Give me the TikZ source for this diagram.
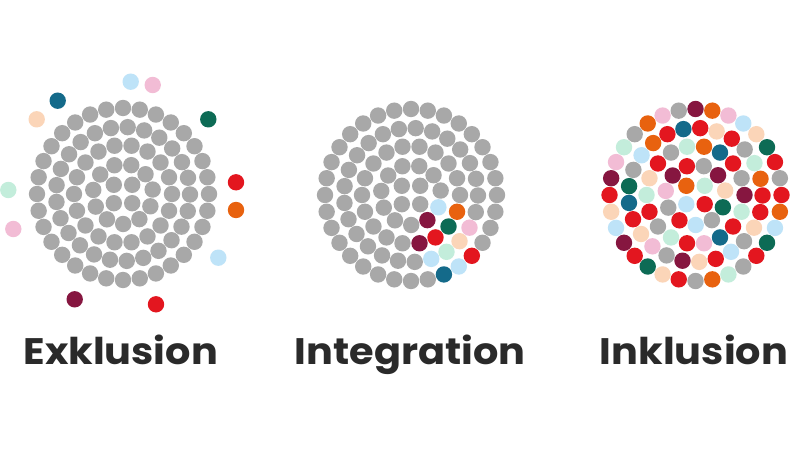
\documentclass[tikz,border=0pt]{standalone}
\usepackage{fontspec}
\usepackage{tikz}
\usetikzlibrary{calc}
\newfontfamily\titlefont[FakeStretch=1.08]{Poppins}

\definecolor{cgray}{HTML}{A8A8A8}
\definecolor{cblue}{HTML}{BEE3F8}
\definecolor{cpink}{HTML}{F2BCD5}
\definecolor{cpetrol}{HTML}{146A8A}
\definecolor{cpeach}{HTML}{FBD5B8}
\definecolor{cgreen}{HTML}{0D6B55}
\definecolor{cred}{HTML}{E3161F}
\definecolor{corange}{HTML}{E8620F}
\definecolor{cmint}{HTML}{C3EDDB}
\definecolor{cwine}{HTML}{861640}
\definecolor{ctext}{HTML}{2A2A2A}

\tikzset{
    title/.style={font=\titlefont\bfseries\fontsize{21}{25}\selectfont, text=ctext, anchor=base, inner sep=0pt}
}
\newcommand{\dotr}{8.2}
% ring of dots: centre, radius, count, first angle, colours (clockwise)
\newcommand{\dotring}[5]{%
    \foreach \c [count=\j] in {#5}
        \fill[\c] ($(#1)+({#4-(\j-1)*360/#3}:#2)$) circle (\dotr);
}
\newcommand{\grayring}[4]{%
    \foreach \j in {1,...,#3}
        \fill[cgray] ($(#1)+({#4-(\j-1)*360/#3}:#2)$) circle (\dotr);
}

\begin{document}
\begin{tikzpicture}[x=0.02cm, y=0.02cm]
    \fill[white] (0,0) rectangle (800,450);
    \useasboundingbox (0,0) rectangle (800,450);

    \coordinate (ex) at (123,256);
    \coordinate (in) at (411,255);
    \coordinate (ink) at (695.5,255);

    % Exklusion
    \grayring{ex}{13}{4}{45}
    \grayring{ex}{30}{11}{74}
    \grayring{ex}{49}{18}{100}
    \grayring{ex}{67}{25}{114.8}
    \grayring{ex}{86}{32}{90}
    \fill[cblue] (130.7,368.3) circle (\dotr);
    \fill[cpink] (152.7,365) circle (\dotr);
    \fill[cpetrol] (57.7,349.3) circle (\dotr);
    \fill[cpeach] (36.7,330.7) circle (\dotr);
    \fill[cgreen] (208.3,330.7) circle (\dotr);
    \fill[cred] (236,267.7) circle (\dotr);
    \fill[corange] (236,240) circle (\dotr);
    \fill[cmint] (8.3,260) circle (\dotr);
    \fill[cpink] (13.3,221) circle (\dotr);
    \fill[cblue] (218.3,192.3) circle (\dotr);
    \fill[cwine] (74.7,150.7) circle (\dotr);
    \fill[cred] (156,145.7) circle (\dotr);

    % Integration
    \grayring{in}{13}{4}{45}
    \dotring{in}{30}{11}{74}{cgray,cgray,cgray,cblue,cwine,cgray,cgray,cgray,cgray,cgray,cgray}
    \dotring{in}{49}{18}{100}{cgray,cgray,cgray,cgray,cgray,cgray,corange,cgreen,cred,cwine,
        cgray,cgray,cgray,cgray,cgray,cgray,cgray,cgray}
    \dotring{in}{67}{25}{114.8}{cgray,cgray,cgray,cgray,cgray,cgray,cgray,cgray,cgray,cgray,
        cpink,cpeach,cmint,cblue,cgray,cgray,cgray,cgray,cgray,cgray,cgray,cgray,cgray,cgray,cgray}
    \dotring{in}{86}{32}{90}{cgray,cgray,cgray,cgray,cgray,cgray,cgray,cgray,cgray,cgray,
        cgray,cgray,cred,cblue,cpetrol,cgray,cgray,cgray,cgray,cgray,cgray,cgray,cgray,cgray,
        cgray,cgray,cgray,cgray,cgray,cgray,cgray,cgray}

    % Inklusion
    \dotring{ink}{13}{4}{45}{cmint,cred,cblue,corange}
    \dotring{ink}{30}{11}{74}{cgray,cwine,cpeach,cgreen,cgray,cblue,cred,cgray,cpink,cwine,cred}
    \dotring{ink}{49}{18}{100}{cmint,corange,cpetrol,cred,cgray,cwine,cmint,cred,cpetrol,cpink,
        cred,cmint,cgray,cred,cmint,cpeach,cred,cgray}
    \dotring{ink}{67}{25}{114.8}{cred,cpetrol,cred,cpeach,cred,cgray,cmint,corange,cred,cred,
        cpeach,cgray,cblue,cred,cpeach,cwine,cgray,cpink,cpeach,cred,cpetrol,cgreen,cgray,cblue,corange}
    \dotring{ink}{86}{32}{90}{cwine,corange,cpink,cblue,cpeach,cgreen,cred,cgray,cred,corange,
        cblue,cgreen,cred,cgray,cmint,corange,cgray,cred,cpeach,cgreen,cred,cwine,cblue,cpeach,
        cred,cwine,cpink,cmint,cgray,corange,cpink,cgray}

    \node[title] (exklusion) at (120.7,85.7) {Exklusion};
    \node[title] (integration) at (410,85.7) {Integration};
    \node[title] (inklusion) at (694,85.7) {Inklusion};
\end{tikzpicture}
\end{document}
